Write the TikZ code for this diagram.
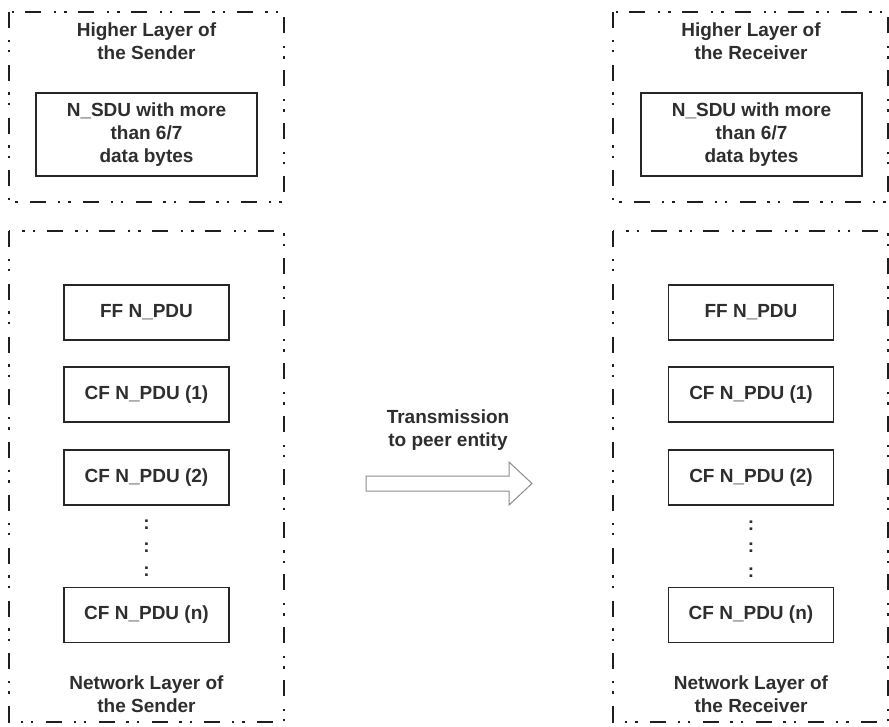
\documentclass[tikz,border=0pt]{standalone}
\usepackage{fontspec}
\setmainfont{Liberation Sans}
\begin{document}
\begin{tikzpicture}[x=1pt,y=-1pt,
  layer/.style={draw=black!88, line width=1.8pt,
    dash pattern=on 16pt off 11.5pt on 2.4pt off 8pt on 2.4pt off 12.5pt},
  pdu/.style={draw=black!85, line width=1.4pt, minimum width=165pt, minimum height=55pt,
    inner sep=0pt, font=\fontsize{19}{23}\selectfont\bfseries, text=black!82},
  lbl/.style={align=center, inner sep=0pt, font=\fontsize{19}{23}\selectfont\bfseries, text=black!82},
  dots/.style={inner sep=0pt, font=\fontsize{19}{23}\selectfont\bfseries, text=black!82}
]
\useasboundingbox (0,0) rectangle (889,726);

% ---- Sender side ----
\draw[layer] (9,12) rectangle (284,202);
\node[lbl] (shl) at (146.5,41) {Higher Layer of\\the Sender};
\node[pdu, minimum width=221pt, minimum height=83pt, align=center] (ssdu) at (146.5,134.5)
  {N\_SDU with more\\than 6/7\\data bytes};

\draw[layer] (9,231) rectangle (284,722);
\node[pdu] (sff) at (146.5,312.5) {FF N\_PDU};
\node[pdu] (scf1) at (146.5,394.5) {CF N\_PDU (1)};
\node[pdu] (scf2) at (146.5,477.5) {CF N\_PDU (2)};
\node[dots] (sd1) at (146.5,525) {:};
\node[dots] (sd2) at (146.5,548) {:};
\node[dots] (sd3) at (146.5,572) {:};
\node[pdu] (scfn) at (146.5,615) {CF N\_PDU (n)};
\node[lbl] (snl) at (146.5,694) {Network Layer of\\the Sender};

% ---- Receiver side ----
\draw[layer] (613,12) rectangle (888,202);
\node[lbl] (rhl) at (751,41) {Higher Layer of\\the Receiver};
\node[pdu, minimum width=221pt, minimum height=83pt, align=center] (rsdu) at (751.5,134.5)
  {N\_SDU with more\\than 6/7\\data bytes};

\draw[layer] (613,231) rectangle (888,722);
\node[pdu] (rff) at (751,312.5) {FF N\_PDU};
\node[pdu] (rcf1) at (751,394.5) {CF N\_PDU (1)};
\node[pdu] (rcf2) at (751,477.5) {CF N\_PDU (2)};
\node[dots] (rd1) at (751,526) {:};
\node[dots] (rd2) at (751,548) {:};
\node[dots] (rd3) at (751,573) {:};
\node[pdu] (rcfn) at (751,615) {CF N\_PDU (n)};
\node[lbl] (rnl) at (751,694) {Network Layer of\\the Receiver};

% ---- Transmission arrow ----
\node[lbl] (tx) at (448,430) {Transmission\\to peer entity};
\draw[draw=black!45, fill=white, line width=1pt, line join=miter]
  (366,476) -- (509,476) -- (509,462) -- (532,483.5) -- (509,505) -- (509,491) -- (366,491) -- cycle;
\end{tikzpicture}
\end{document}
